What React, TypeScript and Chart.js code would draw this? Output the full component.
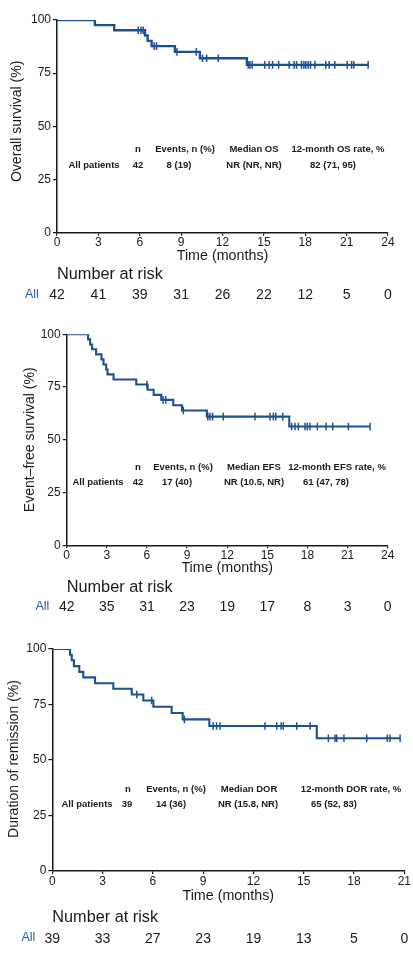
import React, { useEffect, useRef } from 'react';
import { Chart, registerables } from 'chart.js';

Chart.register(...registerables);

const BLUE = '#1d4f94';
const ALL_BLUE = '#2a5cab';
const INK = '#1a1a1a';
const FONT = '"Liberation Sans", Arial, Helvetica, sans-serif';

// ---------- Panel 1: Overall survival ----------
const osEventTimes = [2.75, 4.15, 6.38, 6.57, 6.86, 8.55, 10.36, 13.77];
const osEventSurv = [97.6, 95.2, 92.7, 90.2, 87.7, 85.0, 82.0, 78.9];
const osCensorTimes = [5.89, 6.09, 6.25, 7.05, 7.22, 8.7, 10.1, 10.55, 10.85, 11.69, 13.86, 13.99, 14.15, 15.07, 15.38, 15.63, 16.07, 16.83, 17.2, 17.37, 17.73, 17.9, 18.04, 18.21, 18.38, 18.7, 19.49, 19.73, 20.14, 21.04, 21.36, 21.52, 22.56];
const osRiskTimes = [0, 3, 6, 9, 12, 15, 18, 21, 24];
const osRisk = [42, 41, 39, 31, 26, 22, 12, 5, 0];
const osHeader = ['n', 'Events, n (%)', 'Median OS', '12-month OS rate, %'];
const osRow = ['All patients', '42', '8 (19)', 'NR (NR, NR)', '82 (71, 95)'];

// ---------- Panel 2: Event-free survival ----------
const efsEventTimes = [1.6, 1.75, 1.9, 2.2, 2.6, 2.75, 2.95, 3.05, 3.5, 5.2, 6.05, 6.5, 7.07, 7.97, 8.62, 10.48, 16.64];
const efsEventSurv = [97.6, 95.2, 92.9, 90.5, 88.1, 85.7, 83.3, 81.0, 78.6, 76.2, 73.7, 71.3, 68.9, 66.4, 63.9, 61.0, 56.3];
const efsCensorTimes = [6.0, 7.2, 7.4, 8.72, 10.55, 10.71, 10.91, 11.71, 14.08, 15.2, 15.45, 15.63, 16.15, 16.82, 17.07, 17.32, 17.82, 17.99, 18.19, 18.74, 19.39, 19.89, 21.06, 22.68];
const efsRiskTimes = [0, 3, 6, 9, 12, 15, 18, 21, 24];
const efsRisk = [42, 35, 31, 23, 19, 17, 8, 3, 0];
const efsHeader = ['n', 'Events, n (%)', 'Median EFS', '12-month EFS rate, %'];
const efsRow = ['All patients', '42', '17 (40)', 'NR (10.5, NR)', '61 (47, 78)'];

// ---------- Panel 3: Duration of remission ----------
const dorEventTimes = [1.06, 1.16, 1.29, 1.61, 1.85, 2.55, 3.64, 4.74, 5.43, 6.03, 7.12, 7.78, 9.37, 15.78];
const dorEventSurv = [97.4, 94.9, 92.3, 89.7, 87.2, 84.6, 82.1, 79.5, 76.8, 74.0, 71.2, 68.3, 65.3, 59.8];
const dorCensorTimes = [5.04, 5.93, 7.88, 9.6, 9.8, 10.0, 12.69, 13.39, 13.65, 13.78, 14.58, 15.38, 16.47, 16.87, 16.97, 17.4, 18.76, 19.99, 20.15, 20.75];
const dorRiskTimes = [0, 3, 6, 9, 12, 15, 18, 21];
const dorRisk = [39, 33, 27, 23, 19, 13, 5, 0];
const dorHeader = ['n', 'Events, n (%)', 'Median DOR', '12-month DOR rate, %'];
const dorRow = ['All patients', '39', '14 (36)', 'NR (15.8, NR)', '65 (52, 83)'];

type Panel = {
  top: number;
  height: number;
  area: { left: number; top: number; right: number; bottom: number };
  xMax: number;
  eventTimes: number[];
  eventSurv: number[];
  censorTimes: number[];
  riskTimes: number[];
  risk: number[];
  header: string[];
  row: string[];
  headerY: number;
  rowY: number;
  headerX: number[];
  rowX: number[];
  yTitle: string;
  yTitleX: number;
  yTitleShift: number;
  timeDy: number;
  narDy: number;
  riskDy: number;
  allX: number;
  lineWidth: number;
};

const panels: Panel[] = [
  {
    top: 0, height: 310,
    area: { left: 57, top: 20, right: 388, bottom: 232.7 },
    xMax: 24,
    eventTimes: osEventTimes, eventSurv: osEventSurv, censorTimes: osCensorTimes,
    riskTimes: osRiskTimes, risk: osRisk, header: osHeader, row: osRow,
    headerY: 149, rowY: 165,
    headerX: [138, 185, 254, 338], rowX: [94, 138, 179, 254, 333],
    yTitle: 'Overall survival (%)', yTitleX: 17.5, yTitleShift: 5,
    timeDy: 23.5, narDy: 41.5, riskDy: 62.5, allX: 25, lineWidth: 2.4,
  },
  {
    top: 310, height: 315,
    area: { left: 66.7, top: 24.3, right: 387.7, bottom: 235.3 },
    xMax: 24,
    eventTimes: efsEventTimes, eventSurv: efsEventSurv, censorTimes: efsCensorTimes,
    riskTimes: efsRiskTimes, risk: efsRisk, header: efsHeader, row: efsRow,
    headerY: 157, rowY: 172,
    headerX: [138, 183, 254, 337], rowX: [98, 138, 177, 254, 326],
    yTitle: 'Event–free survival (%)', yTitleX: 30, yTitleShift: 0,
    timeDy: 23, narDy: 42, riskDy: 62, allX: 35.5, lineWidth: 2.1,
  },
  {
    top: 625, height: 334,
    area: { left: 52.3, top: 24, right: 404.3, bottom: 246 },
    xMax: 21,
    eventTimes: dorEventTimes, eventSurv: dorEventSurv, censorTimes: dorCensorTimes,
    riskTimes: dorRiskTimes, risk: dorRisk, header: dorHeader, row: dorRow,
    headerY: 164, rowY: 179,
    headerX: [128, 176, 249, 351], rowX: [87, 127, 171, 248, 334],
    yTitle: 'Duration of remission (%)', yTitleX: 14.5, yTitleShift: 1,
    timeDy: 25, narDy: 47, riskDy: 68, allX: 21.5, lineWidth: 2.1,
  },
];

function survAt(times: number[], surv: number[], t: number) {
  let s = 100;
  for (let i = 0; i < times.length; i++) {
    if (times[i] <= t) s = surv[i];
  }
  return s;
}

function makePlugin(p: Panel) {
  return {
    id: 'kmExtras',
    afterDraw(chart: any) {
      const { ctx, chartArea, scales } = chart;
      const xs = scales.x;
      ctx.save();
      ctx.fillStyle = INK;
      ctx.textBaseline = 'middle';

      // y title
      ctx.save();
      ctx.translate(p.yTitleX, (chartArea.top + chartArea.bottom) / 2 - p.yTitleShift);
      ctx.rotate(-Math.PI / 2);
      ctx.font = `14px ${FONT}`;
      ctx.textAlign = 'center';
      ctx.fillText(p.yTitle, 0, 0);
      ctx.restore();

      // x title
      ctx.font = `14.3px ${FONT}`;
      ctx.textAlign = 'center';
      ctx.fillText('Time (months)', (chartArea.left + chartArea.right) / 2, chartArea.bottom + p.timeDy);

      // annotation table
      ctx.font = `bold 9.5px ${FONT}`;
      p.header.forEach((h, i) => ctx.fillText(h, p.headerX[i], p.headerY));
      p.row.forEach((r, i) => ctx.fillText(r, p.rowX[i], p.rowY));

      // number at risk
      ctx.textAlign = 'left';
      ctx.font = `16.3px ${FONT}`;
      ctx.fillText('Number at risk', chartArea.left, chartArea.bottom + p.narDy);
      ctx.fillStyle = ALL_BLUE;
      ctx.font = `12.5px ${FONT}`;
      ctx.fillText('All', p.allX, chartArea.bottom + p.riskDy - 1);
      ctx.fillStyle = INK;
      ctx.font = `14px ${FONT}`;
      ctx.textAlign = 'center';
      p.riskTimes.forEach((t, i) => {
        ctx.fillText(String(p.risk[i]), xs.getPixelForValue(t), chartArea.bottom + p.riskDy);
      });
      ctx.restore();
    },
  };
}

function KMPanel({ p }: { p: Panel }) {
  const ref = useRef<HTMLCanvasElement | null>(null);
  useEffect(() => {
    if (!ref.current) return;
    const lastCensor = p.censorTimes[p.censorTimes.length - 1];
    const lastSurv = p.eventSurv[p.eventSurv.length - 1];
    const stepData = [{ x: 0, y: 100 }]
      .concat(p.eventTimes.map((t, i) => ({ x: t, y: p.eventSurv[i] })))
      .concat([{ x: lastCensor, y: lastSurv }]);
    const censorData = p.censorTimes.map((t) => ({ x: t, y: survAt(p.eventTimes, p.eventSurv, t) }));
    const xAxisH = 20;
    const chart = new Chart(ref.current, {
      type: 'scatter',
      data: {
        datasets: [
          {
            data: stepData,
            showLine: true,
            stepped: 'before',
            borderColor: BLUE,
            borderWidth: p.lineWidth,
            pointRadius: 0,
            pointHoverRadius: 0,
            fill: false,
          } as any,
          {
            data: censorData,
            showLine: false,
            pointStyle: 'line',
            rotation: 90,
            pointRadius: 3.8,
            borderColor: BLUE,
            backgroundColor: BLUE,
            pointBorderWidth: 1.5,
            borderWidth: 1.5,
          } as any,
        ],
      },
      options: {
        animation: false,
        responsive: false,
        devicePixelRatio: 1,
        events: [],
        layout: {
          padding: {
            left: 0,
            top: p.area.top,
            right: 413 - p.area.right,
            bottom: p.height - p.area.bottom - xAxisH,
          },
        },
        plugins: { legend: { display: false }, tooltip: { enabled: false }, title: { display: false } },
        scales: {
          x: {
            type: 'linear',
            min: 0,
            max: p.xMax,
            ticks: {
              stepSize: 3,
              autoSkip: false,
              maxRotation: 0,
              padding: 0,
              color: INK,
              font: { family: FONT, size: 12 },
            },
            grid: { drawOnChartArea: false, drawTicks: true, tickLength: 3, color: INK, lineWidth: 1.2 },
            border: { color: INK, width: 1.5 },
            afterFit: (s: any) => {
              s.height = xAxisH;
            },
          },
          y: {
            type: 'linear',
            min: 0,
            max: 100,
            ticks: {
              stepSize: 25,
              padding: 2,
              color: INK,
              font: { family: FONT, size: 12 },
            },
            grid: { drawOnChartArea: false, drawTicks: true, tickLength: 4, color: INK, lineWidth: 1.2 },
            border: { color: INK, width: 1.5 },
            afterFit: (s: any) => {
              s.width = p.area.left;
            },
          },
        },
      },
      plugins: [makePlugin(p)],
    });
    return () => chart.destroy();
  }, [p]);
  return (
    <canvas
      ref={ref}
      width={413}
      height={p.height}
      style={{ position: 'absolute', left: 0, top: p.top, width: 413, height: p.height }}
    />
  );
}

export default function App() {
  return (
    <div style={{ position: 'absolute', left: 0, top: 0, width: 413, height: 959, background: '#fff', overflow: 'hidden' }}>
      {panels.map((p, i) => (
        <KMPanel key={i} p={p} />
      ))}
    </div>
  );
}
